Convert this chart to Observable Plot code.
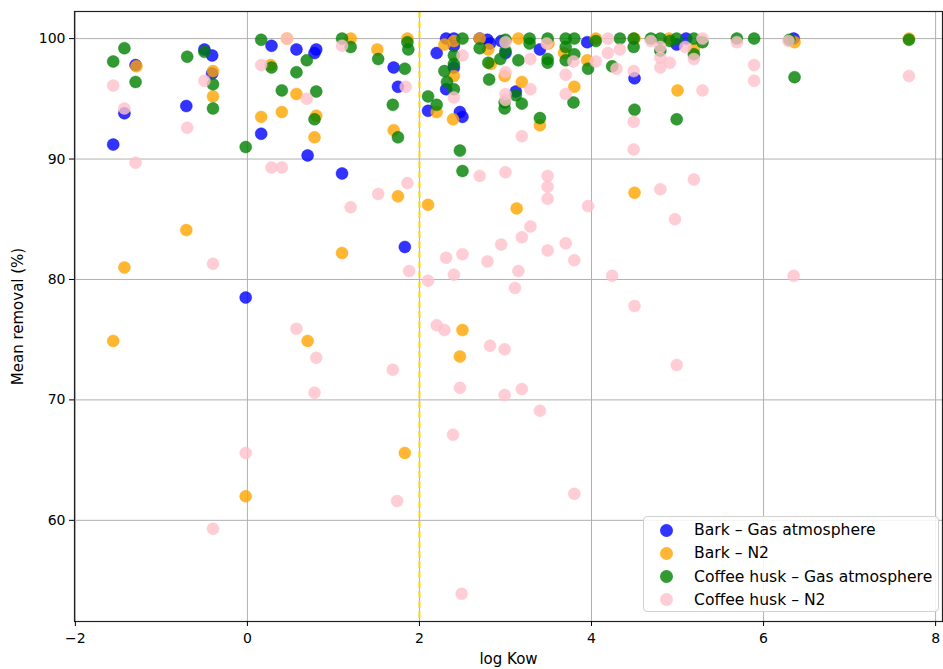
<!DOCTYPE html>
<html>
<head>
<meta charset="utf-8">
<script src="https://cdn.jsdelivr.net/npm/d3@7"></script>
<script src="https://cdn.jsdelivr.net/npm/@observablehq/plot@0.6"></script>
<style>
  html, body { margin: 0; padding: 0; background: #fff; }
  #wrap { position: relative; width: 943px; height: 669px; font-family: "DejaVu Sans", sans-serif; }
  #legend { position: absolute; left: 643px; top: 516px; width: 296px; height: 96px; box-sizing: border-box;
    border: 1px solid #d0d0d0; border-radius: 4px; background: rgba(255,255,255,0.85); font-size: 15.6px; color: #000; }
  .row { position: absolute; left: 0; height: 23px; display: flex; align-items: center; }
  .sw { width: 13px; height: 13px; border-radius: 50%; margin-left: 16px; margin-right: 21px; opacity: 0.8; }
</style>
</head>
<body>
<div id="wrap"></div>
<script>
const seriesNames = ["Bark – Gas atmosphere", "Bark – N2", "Coffee husk – Gas atmosphere", "Coffee husk – N2"];
const seriesColors = ["blue", "orange", "green", "pink"];
const xTicks = [-2, 0, 2, 4, 6, 8];
const yTicks = [60, 70, 80, 90, 100];
const threshold = 2;

const barkGas = [
  [-1.56,91.2],[-1.43,93.8],[-1.3,97.8],[-0.71,94.4],[-0.5,99.1],[-0.41,98.6],[-0.41,97.1],[-0.02,78.5],
  [0.16,92.1],[0.28,99.4],[0.57,99.1],[0.7,90.3],[0.78,98.8],[0.8,99.1],[1.1,88.8],[1.7,97.6],[1.75,96.0],
  [1.83,82.7],[2.1,94.0],[2.2,98.8],[2.31,100],[2.31,95.8],[2.4,100],[2.4,99.4],[2.4,97.6],[2.47,93.9],
  [2.5,93.5],[2.7,100],[2.79,99.9],[2.82,99.6],[2.95,99.8],[3.0,98.8],[3.12,95.6],[3.4,99.1],[3.95,99.7],
  [4.5,96.7],[4.99,99.5],[5.1,100],[6.35,100]
];
const barkN2 = [
  [-1.56,74.9],[-1.43,81.0],[-1.29,97.7],[-0.71,84.1],[-0.4,97.3],[-0.4,95.2],[-0.02,62.0],[0.16,93.5],
  [0.27,97.8],[0.4,93.9],[0.46,100],[0.57,95.4],[0.7,74.9],[0.78,91.8],[0.8,93.6],[1.1,82.2],[1.2,100],
  [1.51,99.1],[1.7,92.4],[1.75,86.9],[1.83,65.6],[1.86,100],[2.1,86.2],[2.2,93.9],[2.29,99.5],[2.39,93.3],
  [2.4,99.8],[2.4,96.9],[2.47,73.6],[2.5,75.8],[2.7,100],[2.8,99.1],[2.83,97.9],[2.99,96.9],[3.13,85.9],
  [3.15,100],[3.19,96.4],[3.4,92.8],[3.5,99.6],[3.68,98.8],[3.8,96.0],[3.95,98.2],[4.05,100],[4.5,100],
  [4.5,87.2],[4.9,100],[5.0,95.7],[5.19,99.1],[6.36,99.7],[7.69,100]
];
const coffeeGas = [
  [-1.56,98.1],[-1.43,99.2],[-1.3,96.4],[-0.7,98.5],[-0.5,98.9],[-0.4,96.2],[-0.4,94.2],[-0.02,91.0],
  [0.16,99.9],[0.28,97.6],[0.4,95.7],[0.57,97.2],[0.69,98.2],[0.8,95.6],[0.78,93.3],[1.1,100],[1.2,99.3],
  [1.52,98.3],[1.69,94.5],[1.75,91.8],[1.83,97.5],[1.86,99.7],[1.87,99.1],[2.1,95.2],[2.2,94.5],[2.29,97.3],
  [2.32,96.4],[2.4,98.6],[2.4,97.9],[2.4,95.8],[2.47,90.7],[2.5,89.0],[2.5,100],[2.7,99.2],[2.8,98.0],
  [2.81,96.6],[2.94,98.3],[3.0,99.9],[3.0,99.0],[2.99,94.7],[2.99,94.2],[3.12,95.3],[3.15,98.2],[3.19,94.6],
  [3.28,100],[3.28,99.6],[3.4,93.4],[3.49,100],[3.49,98.3],[3.49,98.0],[3.7,100],[3.7,99.3],[3.7,98.2],
  [3.8,100],[3.8,98.7],[3.79,94.7],[3.96,97.5],[4.05,99.8],[4.24,97.7],[4.33,100],[4.49,100],[4.49,99.3],
  [4.5,94.1],[4.69,100],[4.8,100],[4.8,99.0],[4.91,99.8],[4.99,100],[4.99,93.3],[5.19,100],[5.19,98.7],
  [5.29,99.7],[5.69,100],[5.89,100],[6.3,99.9],[6.36,96.8],[7.69,99.9]
];
const coffeeN2 = [
  [-1.56,96.1],[-1.43,94.2],[-1.3,89.7],[-0.7,92.6],[-0.5,96.5],[-0.4,81.3],[-0.4,59.3],[-0.02,65.6],
  [0.16,97.8],[0.28,89.3],[0.4,89.3],[0.46,100],[0.57,75.9],[0.69,95.0],[0.78,70.6],[0.8,73.5],[1.1,99.4],
  [1.2,86.0],[1.52,87.1],[1.69,72.5],[1.74,61.6],[1.84,96.0],[1.86,88.0],[1.88,80.7],[2.1,79.9],[2.2,76.2],
  [2.29,75.8],[2.31,81.8],[2.39,67.1],[2.4,95.1],[2.4,80.4],[2.47,71.0],[2.49,53.9],[2.5,98.6],[2.5,82.1],
  [2.7,88.6],[2.79,81.5],[2.82,74.5],[2.95,82.9],[2.99,74.2],[2.99,70.4],[3.0,99.7],[3.0,97.2],[3.0,95.4],
  [3.0,94.9],[3.0,88.9],[3.11,79.3],[3.15,80.7],[3.19,91.9],[3.19,83.5],[3.19,70.9],[3.29,98.3],[3.29,95.8],
  [3.29,84.4],[3.4,69.1],[3.48,99.6],[3.49,88.6],[3.49,87.7],[3.49,86.7],[3.49,82.4],[3.7,97.0],[3.7,95.4],
  [3.7,83.0],[3.79,98.1],[3.8,81.6],[3.8,62.2],[3.96,86.1],[4.05,98.1],[4.19,100],[4.19,98.8],[4.24,80.3],
  [4.29,97.5],[4.33,99.1],[4.49,97.3],[4.49,93.1],[4.49,90.8],[4.5,77.8],[4.69,99.8],[4.8,99.3],[4.8,98.4],
  [4.8,97.6],[4.8,87.5],[4.91,98.0],[4.97,85.0],[4.99,72.9],[5.09,99.3],[5.19,98.3],[5.19,88.3],[5.29,100],
  [5.29,95.7],[5.69,99.7],[5.89,97.8],[5.89,96.5],[6.29,99.8],[6.35,80.3],[7.69,96.9]
];

const allSeries = [barkGas, barkN2, coffeeGas, coffeeN2];
const data = allSeries.flatMap((arr, i) => arr.map(([x, y]) => ({x, y, s: seriesNames[i]})));

const chart = Plot.plot({
  width: 943,
  height: 669,
  marginLeft: 74,
  marginRight: 1,
  marginTop: 11,
  marginBottom: 48,
  style: {fontFamily: "DejaVu Sans, sans-serif", fontSize: "14px", color: "#000", background: "#fff"},
  x: {domain: [-2.01, 8.08], ticks: xTicks},
  y: {domain: [51.6, 102.25], ticks: yTicks},
  color: {domain: seriesNames, range: seriesColors},
  marks: [
    Plot.gridX(xTicks, {stroke: "#b0b0b0", strokeOpacity: 1, strokeWidth: 1}),
    Plot.gridY(yTicks, {stroke: "#b0b0b0", strokeOpacity: 1, strokeWidth: 1}),
    Plot.dot(data, {x: "x", y: "y", fill: "s", r: 6, fillOpacity: 0.8, stroke: "s", strokeOpacity: 0.8, strokeWidth: 0.5}),
    Plot.ruleX([threshold], {stroke: "#FFD700", strokeWidth: 2, strokeDasharray: "7,3"}),
    Plot.frame({stroke: "#222", strokeWidth: 1.2}),
    Plot.axisX({ticks: xTicks, tickSize: 5, tickPadding: 7, label: null, fontSize: 14}),
    Plot.axisY({ticks: yTicks, tickSize: 5, tickPadding: 4, label: null, fontSize: 14}),
    Plot.text(["log Kow"], {frameAnchor: "bottom", dy: 42, fontSize: 15}),
    Plot.text(["Mean removal (%)"], {frameAnchor: "left", textAnchor: "middle", dx: -56, rotate: -90, fontSize: 15})
  ]
});

const wrap = document.getElementById("wrap");
wrap.appendChild(chart);

const legend = document.createElement("div");
legend.id = "legend";
seriesNames.forEach((name, i) => {
  const row = document.createElement("div");
  row.className = "row";
  row.style.top = (1.5 + i * 23.3) + "px";
  const sw = document.createElement("span");
  sw.className = "sw";
  sw.style.background = seriesColors[i];
  const t = document.createElement("span");
  t.textContent = name;
  row.appendChild(sw);
  row.appendChild(t);
  legend.appendChild(row);
});
wrap.appendChild(legend);
</script>
</body>
</html>
